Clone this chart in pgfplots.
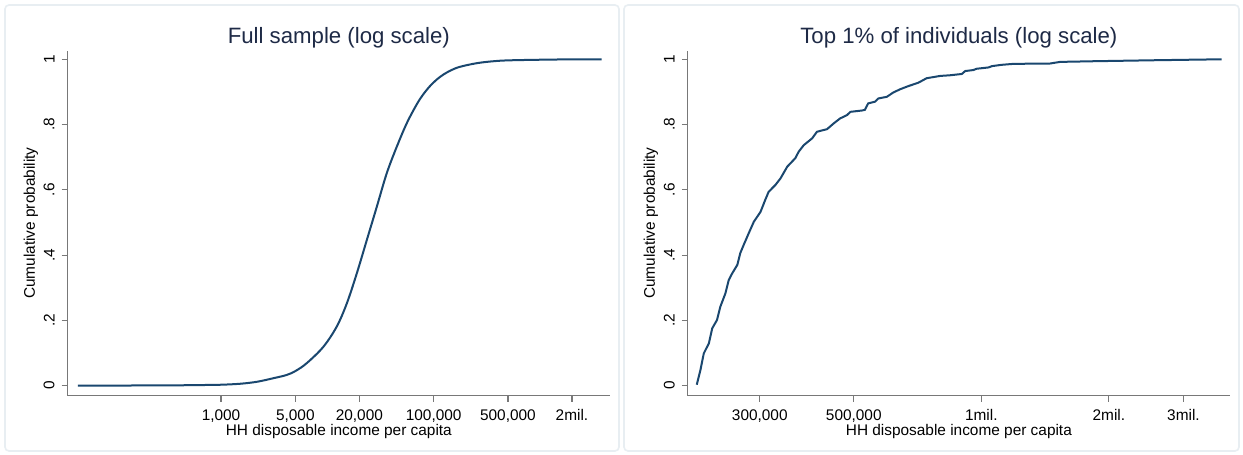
\documentclass[border=0pt]{standalone}
\usepackage{pgfplots}
\pgfplotsset{compat=1.18}
\usepackage{fontspec}
\setmainfont{Liberation Sans}
\definecolor{stnavy}{RGB}{26,71,111}
\definecolor{sttitle}{RGB}{30,42,70}
\definecolor{stframe}{RGB}{232,238,242}
\definecolor{staxis}{RGB}{120,120,120}
\pgfplotsset{
  statastyle/.style={
    scale only axis,
    width=271.15pt, height=172.5pt,
    axis lines*=left,
    axis line style={staxis, line width=0.7pt},
    tick style={staxis, line width=0.6pt},
    tick align=outside,
    major tick length=3pt,
    xminorticks=false,
    ymin=-0.0306, ymax=1.0263,
    ytick={0,0.2,0.4,0.6,0.8,1},
    yticklabels={0,.2,.4,.6,.8,1},
    yticklabel style={rotate=90, anchor=south, font=\fontsize{7.7}{9}\selectfont},
    xticklabel style={font=\fontsize{7.7}{9}\selectfont, inner ysep=0.5pt, yshift=-3.3pt},
    xlabel={HH disposable income per capita},
    ylabel={Cumulative probability},
    xlabel style={font=\fontsize{7.7}{9}\selectfont, at={(axis description cs:0.5,-0.105)}, anchor=center, inner sep=0pt},
    ylabel style={font=\fontsize{7.7}{9}\selectfont, yshift=-4pt},
    title style={font=\fontsize{11.1}{13}\selectfont, text=sttitle, yshift=-8pt},
    clip=false,
  }
}
\begin{document}
\begin{tikzpicture}
\useasboundingbox (0,0) rectangle (621.5pt,227.5pt);
\fill[white] (0,0) rectangle (621.5pt,227.5pt);
\draw[stframe, line width=0.8pt, rounded corners=2pt] (2.5pt,2pt) rectangle (309.5pt,225pt);
\draw[stframe, line width=0.8pt, rounded corners=2pt] (312pt,2pt) rectangle (619.5pt,225pt);
\begin{axis}[xmode=log, statastyle,
  at={(33.85pt,29.65pt)}, anchor=south west,
  xmin=36.1, xmax=4.56e6,
  xtick={1000,5000,20000,100000,500000,2000000},
  xticklabels={{1,000},{5,000},{20,000},{100,000},{500,000},{2mil.}},
  title={Full sample (log scale)},
]
\addplot[stnavy, line width=1pt, smooth, tension=0.55] coordinates {
(45,0) (100,0.0005) (316,0.001) (631,0.002) (1000,0.003) (1514,0.006)
(2173,0.012) (3112,0.023) (4150,0.033) (5012,0.045) (6397,0.069) (9162,0.119)
(12246,0.181) (15241,0.252) (18923,0.344) (23496,0.446) (29174,0.548)
(36224,0.651) (44978,0.732) (55847,0.804) (69343,0.862) (80000,0.893) (92470,0.918)
(107000,0.938) (123300,0.953) (145000,0.966) (177000,0.977) (254100,0.988) (364800,0.994) (543300,0.997)
(1603000,0.9995) (3810000,1.0)
};
\end{axis}
\begin{axis}[xmode=log, statastyle,
  at={(343.85pt,29.65pt)}, anchor=south west,
  xmin=202800, xmax=3.864e6,
  xtick={300000,500000,1000000,2000000,3000000},
  xticklabels={{300,000},{500,000},{1mil.},{2mil.},{3mil.}},
  title={Top 1\% of individuals (log scale)},
]
\addplot[stnavy, line width=1pt] coordinates {
(213000,0.003) (217300,0.048) (221300,0.099) (227500,0.130) (231700,0.176)
(237700,0.201) (242100,0.242) (248900,0.283) (253500,0.324) (258200,0.344)
(265500,0.370) (269800,0.406) (274800,0.431) (282500,0.467) (290400,0.502)
(301300,0.533) (309000,0.569) (314800,0.594) (326600,0.615) (335700,0.635)
(348300,0.671) (363900,0.697) (370700,0.717) (381100,0.737) (399000,0.758)
(409300,0.778) (432500,0.786) (448700,0.804) (464500,0.819) (481900,0.829)
(490900,0.839) (522400,0.843) (530900,0.845) (540800,0.865) (561000,0.870)
(571500,0.880) (598400,0.885) (619400,0.898) (642700,0.908) (673000,0.918)
(709600,0.928) (743000,0.942) (799800,0.949) (843300,0.951) (899500,0.955)
(916200,0.964) (957200,0.967) (975000,0.971) (1040000,0.975) (1059000,0.979)
(1117000,0.983) (1191000,0.986) (1452000,0.987) (1535000,0.992) (1837000,0.994)
(2547000,0.997) (3690000,1.0)
};
\end{axis}
\end{tikzpicture}
\end{document}
